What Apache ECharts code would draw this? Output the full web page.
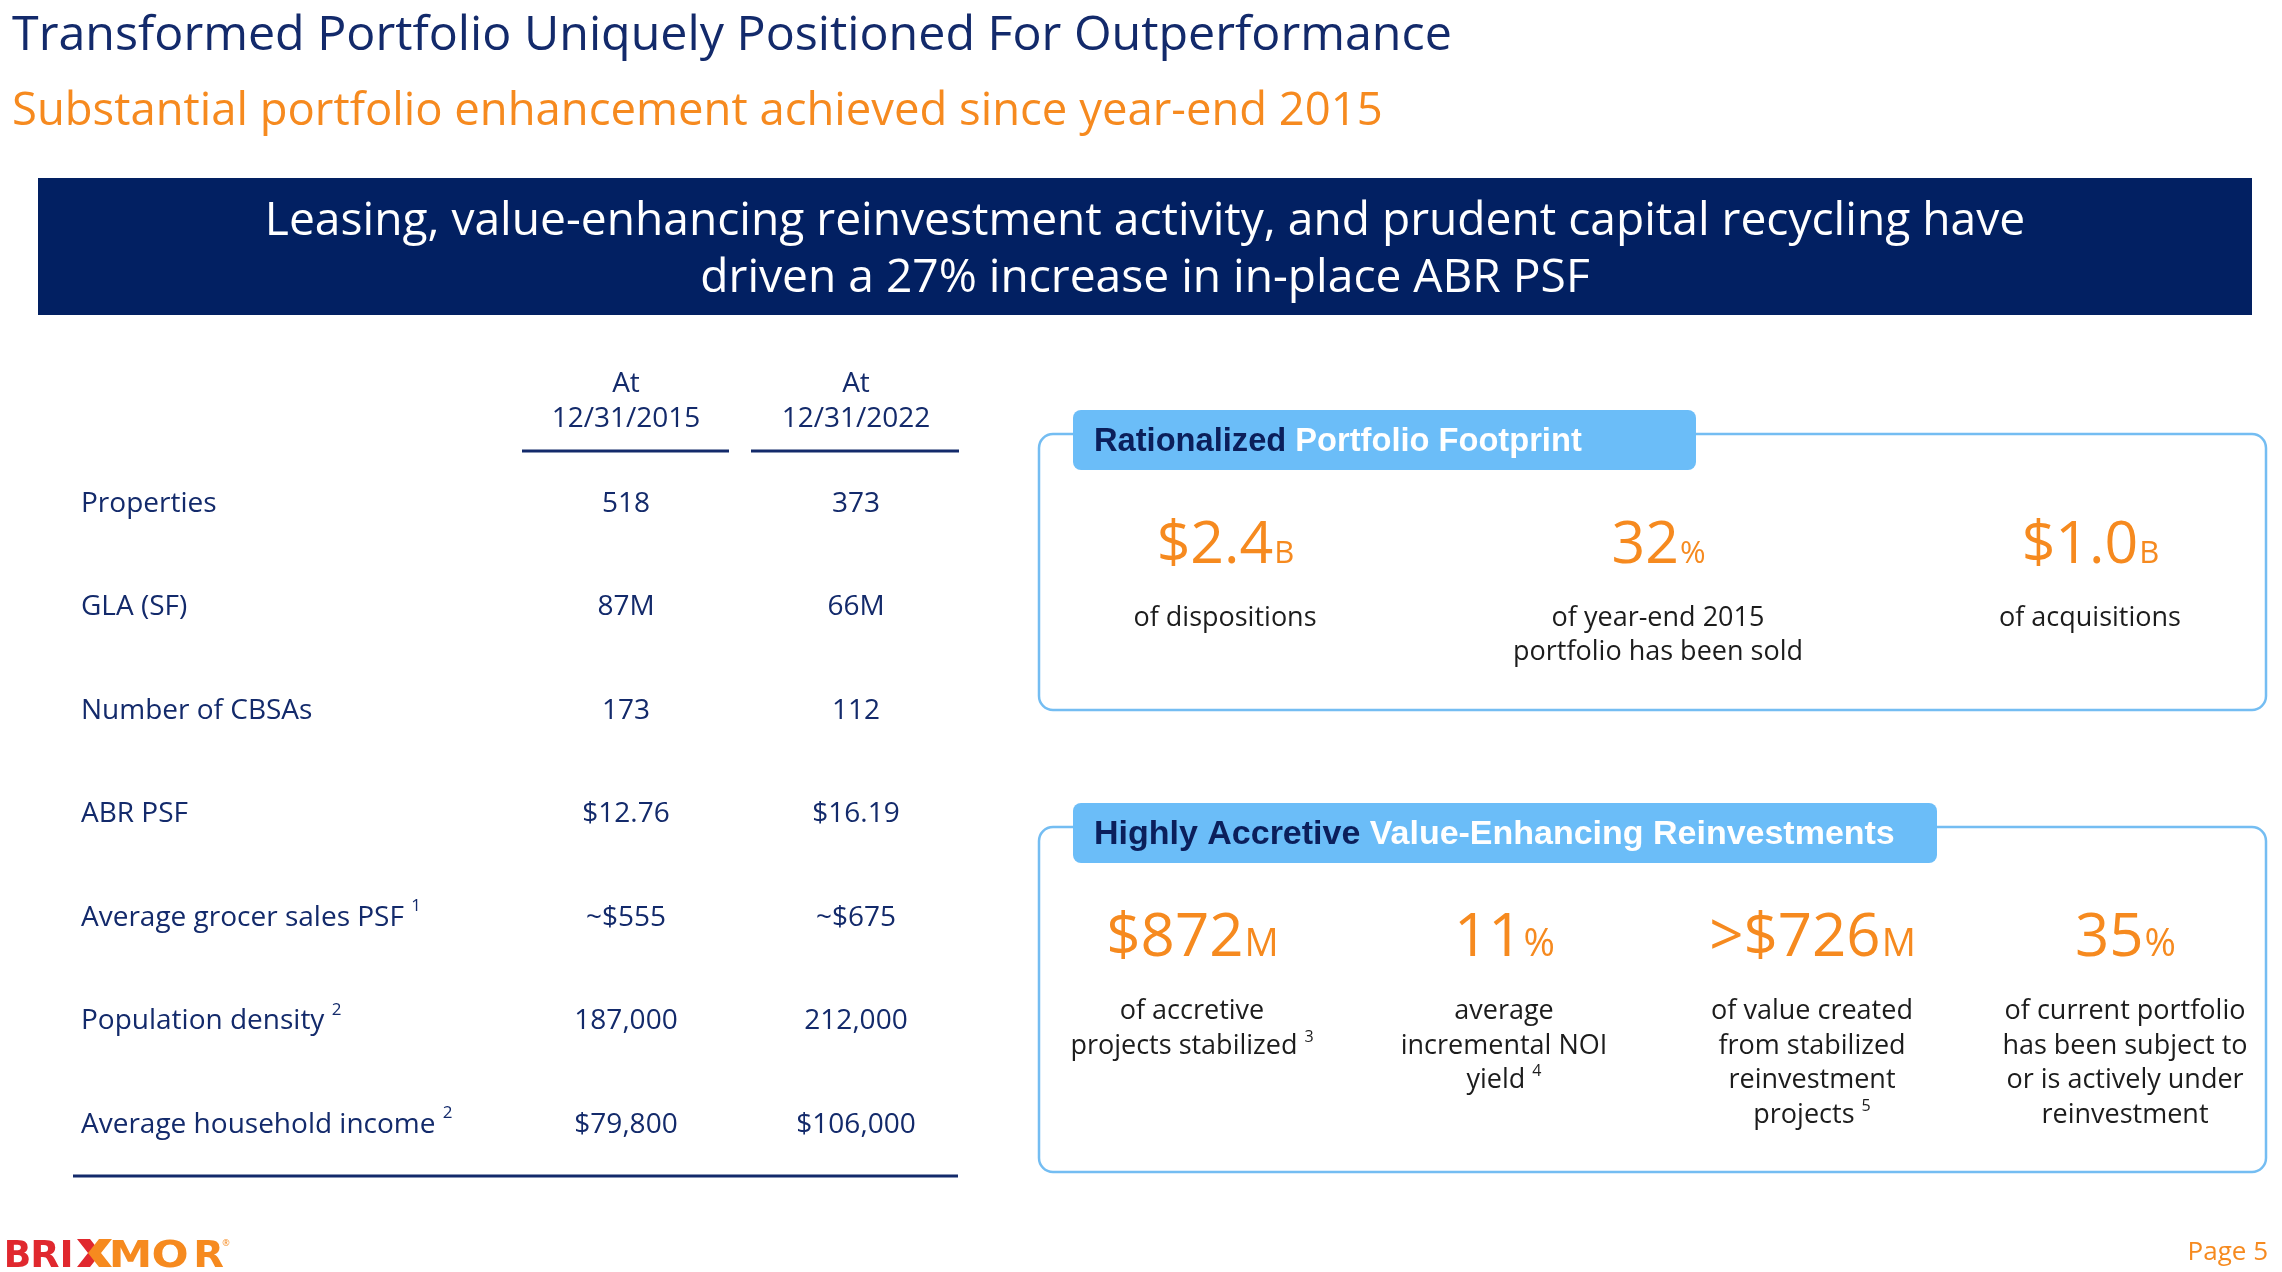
<!DOCTYPE html>
<html><head><meta charset="utf-8">
<script src="https://cdn.jsdelivr.net/npm/echarts@6/dist/echarts.min.js"></script>
<style>html,body{margin:0;padding:0;background:#fff}#c{width:2282px;height:1272px}</style>
</head><body><div id="c"></div>
<script>
// ---------- data ----------
const titleText = 'Transformed Portfolio Uniquely Positioned For Outperformance';
const subtitleText = 'Substantial portfolio enhancement achieved since year-end 2015';
const bannerLines = ['Leasing, value-enhancing reinvestment activity, and prudent capital recycling have', 'driven a 27% increase in in-place ABR PSF'];
const columnHeaders = [['At', '12/31/2015'], ['At', '12/31/2022']];
const rowLabels = ['Properties', 'GLA (SF)', 'Number of CBSAs', 'ABR PSF', 'Average grocer sales PSF', 'Population density', 'Average household income'];
const rowNotes = ['', '', '', '', '1', '2', '2'];
const values2015 = ['518', '87M', '173', '$12.76', '~$555', '187,000', '$79,800'];
const values2022 = ['373', '66M', '112', '$16.19', '~$675', '212,000', '$106,000'];
const footprintTitle = ['Rationalized', 'Portfolio Footprint'];
const footprintFigures = [['$2.4', 'B'], ['32', '%'], ['$1.0', 'B']];
const footprintDesc = [['of dispositions'], ['of year-end 2015', 'portfolio has been sold'], ['of acquisitions']];
const reinvestTitle = ['Highly Accretive', 'Value-Enhancing Reinvestments'];
const reinvestFigures = [['$872', 'M'], ['11', '%'], ['>$726', 'M'], ['35', '%']];
const reinvestDesc = [['of accretive', 'projects stabilized'], ['average', 'incremental NOI', 'yield'], ['of value created', 'from stabilized', 'reinvestment', 'projects'], ['of current portfolio', 'has been subject to', 'or is actively under', 'reinvestment']];
const reinvestNotes = ['3', '4', '5', ''];
const logoLeft = ['B', 'R', 'I'];
const logoRight = ['M', 'O', 'R'];
const pageLabel = 'Page 5';

// ---------- styling / layout ----------
const FONT = "'Open Sans', 'Liberation Sans', sans-serif";
const BOLD_FONT = "'Liberation Sans', Arial, sans-serif";
const LOGO_FONT = "'DejaVu Sans', 'Liberation Sans', sans-serif";
const NAVY = '#132a6b', DARK_NAVY = '#0b1f5b', BANNER = '#022062', ORANGE = '#f68a1f',
      SKY = '#6bbdf8', BOX = '#74bdf2', RED = '#e0282e', INK = '#1c1c1c';

const mctx = document.createElement('canvas').getContext('2d');
function fit(text, family, weight, target) {
  mctx.font = weight + ' 100px ' + family;
  return 100 * target / mctx.measureText(text).width;
}
function textWidth(text, family, weight, size) {
  mctx.font = weight + ' ' + size + 'px ' + family;
  return mctx.measureText(text).width;
}
function baseOffset(family, weight, size) {
  mctx.font = weight + ' ' + size + 'px ' + family;
  mctx.textBaseline = 'middle';
  const d = mctx.measureText('H').actualBoundingBoxDescent;
  mctx.textBaseline = 'alphabetic';
  return d;
}

const els = [];
function T(x, y, text, size, color, o) {
  o = o || {};
  const st = {
    text: text, fill: color, fontSize: size, fontFamily: o.family || FONT, fontWeight: o.weight || 'normal',
    textAlign: o.align || 'left', textVerticalAlign: o.va || 'middle',
    align: o.align || 'left', verticalAlign: o.va || 'middle'
  };
  if (o.lh) st.lineHeight = o.lh;
  if (o.rich) st.rich = o.rich;
  const el = { type: 'text', x: x, y: y, z: o.z || 10, silent: true, style: st };
  if (o.scaleX) el.scaleX = o.scaleX;
  els.push(el);
}
function R(x, y, w, h, r, style, z) {
  els.push({ type: 'rect', z: z || 1, silent: true, shape: { x: x, y: y, width: w, height: h, r: r }, style: style });
}
function L(x1, y1, x2, y2, color, w) {
  els.push({ type: 'line', z: 5, silent: true, shape: { x1: x1, y1: y1, x2: x2, y2: y2 }, style: { stroke: color, lineWidth: w } });
}

// title + subtitle
T(12, 36, titleText, fit(titleText, FONT, 'normal', 1440), NAVY);
T(12, 112, subtitleText, fit(subtitleText, FONT, 'normal', 1371), ORANGE);

// banner
R(38, 178, 2214, 137, 0, { fill: BANNER });
const bannerSize = fit(bannerLines[0], FONT, 'normal', 1761);
bannerLines.forEach(function (line, i) { T(1145, 222 + i * 57, line, bannerSize, '#ffffff', { align: 'center' }); });

// table
const colX = [626, 856];
const colSpan = [[522, 729], [751, 959]];
columnHeaders.forEach(function (h, i) {
  T(colX[i], 402, h.join('\n'), 28, NAVY, { align: 'center', lh: 35 });
  L(colSpan[i][0], 451, colSpan[i][1], 451, NAVY, 3);
});
const rowY0 = 504, rowStep = 103.5;
rowLabels.forEach(function (lab, i) {
  const y = rowY0 + i * rowStep;
  const rich = { l: { fill: NAVY, fontSize: 28, fontFamily: FONT, lineHeight: 40 },
                 s: { fill: NAVY, fontSize: 17, fontFamily: FONT, lineHeight: 29, verticalAlign: 'top' } };
  const t = '{l|' + lab + (rowNotes[i] ? ' ' : '') + '}' + (rowNotes[i] ? '{s|' + rowNotes[i] + '}' : '');
  T(81, y, t, 28, NAVY, { rich: rich });
  T(colX[0], y, values2015[i], 28, NAVY, { align: 'center' });
  T(colX[1], y, values2022[i], 28, NAVY, { align: 'center' });
});
L(73, 1176, 958, 1176, NAVY, 3);

// panels
function figure(cx, baseline, fig, big, small) {
  const wb = textWidth(fig[0], FONT, 'normal', big);
  const ws = textWidth(fig[1], FONT, 'normal', small);
  const left = cx - (wb + ws) / 2;
  T(left, baseline - baseOffset(FONT, 'normal', big), fig[0], big, ORANGE);
  T(left + wb + 1, baseline - baseOffset(FONT, 'normal', small), fig[1], small, ORANGE);
}
function desc(x, yTop, lines, note) {
  const rich = {
    d: { fill: INK, fontSize: 27, fontFamily: FONT, lineHeight: 34.5 },
    s: { fill: INK, fontSize: 16, fontFamily: FONT, lineHeight: 24, verticalAlign: 'top' }
  };
  const t = lines.map(function (ln, i) {
    const last = i === lines.length - 1;
    return '{d|' + ln + (last && note ? ' ' : '') + '}' + (last && note ? '{s|' + note + '}' : '');
  }).join('\n');
  T(x, yTop, t, 27, INK, { align: 'center', va: 'top', rich: rich, lh: 34.5 });
}
function tab(x, y, w, h, parts, target) {
  R(x, y, w, h, 8, { fill: SKY }, 3);
  const size = fit(parts.join(' '), BOLD_FONT, 'bold', target);
  const rich = {
    a: { fill: DARK_NAVY, fontSize: size, fontFamily: BOLD_FONT, fontWeight: 'bold' },
    b: { fill: '#ffffff', fontSize: size, fontFamily: BOLD_FONT, fontWeight: 'bold' }
  };
  T(x + 21, y + h / 2 + 2, '{a|' + parts[0] + '}{b| ' + parts[1] + '}', size, '#fff', { rich: rich, z: 12 });
}

// box 1
R(1039, 434, 1227, 276, 14, { fill: '#ffffff', stroke: BOX, lineWidth: 2.5 }, 1);
tab(1073, 410, 623, 60, footprintTitle, 488);
const fpX = [1225, 1658, 2090];
footprintFigures.forEach(function (f, i) {
  figure(fpX[i], 563, f, 59, 31);
  desc(fpX[i], 601, footprintDesc[i], '');
});

// box 2
R(1039, 827, 1227, 345, 14, { fill: '#ffffff', stroke: BOX, lineWidth: 2.5 }, 1);
tab(1073, 803, 864, 60, reinvestTitle, 801);
const riX = [1192, 1504, 1812, 2125];
reinvestFigures.forEach(function (f, i) {
  figure(riX[i], 956, f, 60, 38);
  desc(riX[i], 994.5, reinvestDesc[i], reinvestNotes[i]);
});

// logo
const leftX = [17.5, 45, 66.5], rightX = [130.5, 170, 208.5];
const leftScale = [0.95, 1.0, 1.0], rightScale = [1.15, 1.15, 1.05];
const logoY = 1267 - baseOffset(LOGO_FONT, 'bold', 38);
logoLeft.forEach(function (ch, i) { T(leftX[i], logoY, ch, 38, RED, { align: 'center', family: LOGO_FONT, weight: 'bold', scaleX: leftScale[i] }); });
logoRight.forEach(function (ch, i) { T(rightX[i], logoY, ch, 38, ORANGE, { align: 'center', family: LOGO_FONT, weight: 'bold', scaleX: rightScale[i] }); });
(function () {
  const x0 = 77, x1 = 112, y0 = 1239, y1 = 1267, cx = 94.5, cy = 1253, t = 13;
  els.push({ type: 'polygon', z: 6, silent: true, shape: { points: [[x0, y0], [x0 + t, y0], [cx + t / 2, cy], [x0 + t, y1], [x0, y1], [cx - t / 2, cy]] }, style: { fill: RED } });
  els.push({ type: 'polygon', z: 7, silent: true, shape: { points: [[x1, y0], [x1 - t, y0], [cx - t / 2, cy], [x1 - t, y1], [x1, y1], [cx + t / 2, cy]] }, style: { fill: ORANGE } });
})();
T(226, 1243, '\u00AE', 9, ORANGE, { align: 'center' });

// page number
T(2268, 1253, pageLabel, 26, ORANGE, { align: 'right' });

const chart = echarts.init(document.getElementById('c'), null, { renderer: 'canvas' });
chart.setOption({ animation: false, backgroundColor: '#ffffff', graphic: { elements: els } });
</script>
</body></html>
